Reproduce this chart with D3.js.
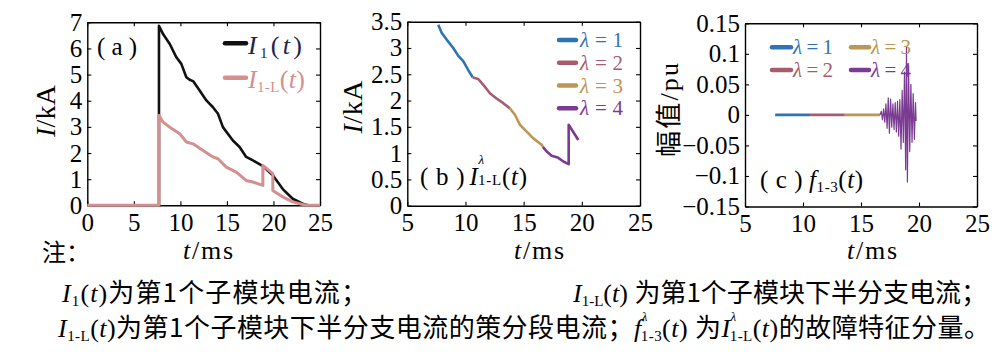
<!DOCTYPE html>
<html><head><meta charset="utf-8">
<script src="https://cdn.jsdelivr.net/npm/d3@7"></script>
<style>body{margin:0;background:#fff}svg{display:block}</style>
</head><body>
<svg id="chart" width="1008" height="355"></svg>
<script>
// ---------------- data ----------------
// panel (a)
const tA_I1  = [0, 7.7, 7.7, 8.14, 8.86, 9.57, 10.1, 10.64, 11.0, 11.36, 12.07, 12.79, 13.5, 14.04, 14.57, 15.64, 16.36, 17.07, 17.79, 18.86, 19.93, 21.0, 22.07, 23.14, 23.7, 25];
const vA_I1  = [0, 0, 6.87, 6.55, 6.17, 5.66, 5.41, 4.90, 4.80, 4.75, 4.39, 4.01, 3.75, 3.50, 2.99, 2.48, 2.23, 1.85, 1.72, 1.50, 1.15, 0.62, 0.25, 0.06, 0, 0];
const tA_I1L = [0, 7.7, 7.7, 8.14, 8.86, 9.93, 10.64, 11.36, 12.43, 13.5, 14.04, 14.93, 16.0, 17.07, 17.79, 18.86, 18.86, 19.93, 19.93, 21.0, 22.07, 23.14, 23.7, 25];
const vA_I1L = [0, 0, 3.44, 3.18, 2.99, 2.74, 2.42, 2.35, 2.10, 1.85, 1.78, 1.46, 1.27, 0.95, 0.89, 0.76, 1.53, 1.21, 0.57, 0.32, 0.13, 0.03, 0, 0];
// panel (b) segments
const tB1 = [7.66, 7.95, 8.38, 8.95, 9.38, 9.81, 10.24, 10.62];
const vB1 = [3.44, 3.29, 3.16, 3.00, 2.85, 2.75, 2.58, 2.44];
const tB2 = [10.62, 11.1, 11.53, 12.1, 12.67, 13.25, 13.82];
const vB2 = [2.44, 2.41, 2.30, 2.14, 2.04, 1.95, 1.85];
const tB3 = [13.82, 14.25, 14.68, 15.26, 15.83, 16.55, 16.65];
const vB3 = [1.85, 1.73, 1.54, 1.41, 1.28, 1.16, 1.12];
const tB4 = [16.65, 16.98, 17.41, 17.98, 18.41, 18.87, 18.87, 19.7];
const vB4 = [1.12, 1.03, 0.95, 0.91, 0.84, 0.79, 1.54, 1.25];
// panel (c) segments
const tC1 = [7.6, 10.6];   const vC1 = [0, 0];
const tC2 = [10.6, 13.6];  const vC2 = [0, 0];
const tC3 = [13.6, 16.65]; const vC3 = [0, 0];
const tC4 = [16.65,16.75,16.85,16.95,17.05,17.15,17.25,17.35,17.45,17.55,17.65,17.75,17.85,17.95,18.05,18.15,18.25,18.35,18.45,18.55,18.65,18.75,18.85,18.92,19.00,19.10,19.20,19.30,19.40,19.50,19.60,19.70,19.75];
const vC4 = [0,0.006,-0.008,0.010,-0.012,0.018,-0.022,0.028,-0.030,0.026,-0.020,0.018,-0.024,0.020,-0.028,0.022,-0.035,0.025,-0.056,0.040,-0.045,0.070,-0.090,0.112,-0.110,0.080,-0.060,0.050,-0.045,0.035,-0.040,0.020,-0.010];
// ticks
const xTicksA = [0, 5, 10, 15, 20, 25];
const yTicksA = [0, 1, 2, 3, 4, 5, 6, 7];
const xTicksBC = [5, 10, 15, 20, 25];
const yTicksB = [0, 0.5, 1, 1.5, 2, 2.5, 3, 3.5];
const yTicksC = [-0.15, -0.1, -0.05, 0, 0.05, 0.1, 0.15];
const yLabelsC = ["\u22120.15", "\u22120.1", "\u22120.05", "0", "0.05", "0.1", "0.15"];
const lambdaNames = ["\u03bb=1", "\u03bb=2", "\u03bb=3", "\u03bb=4"];
const lambdaColors = ["#2e74b5", "#a65b6e", "#be9552", "#7b3b93"];

// ---------------- drawing ----------------
const SERIF = "Liberation Serif";
const CJK = "Noto Sans CJK SC";
const svg = d3.select("#chart");

function panel(o) {
  const xs = d3.scaleLinear().domain(o.xd).range([o.x0, o.x1]);
  const ys = d3.scaleLinear().domain(o.yd).range([o.y1, o.y0]);
  const g = svg.append("g");
  const style = a => {
    a.attr("font-family", null).attr("font-size", null);
    a.selectAll("path.domain").attr("stroke", "#000").attr("stroke-width", 1.4);
    a.selectAll(".tick line").attr("stroke", "#000").attr("stroke-width", 1.1);
    a.selectAll("text").style("font-family", SERIF).style("font-size", "25px").attr("fill", "#000");
  };
  g.append("g").attr("transform", `translate(0,${o.y1})`)
    .call(d3.axisBottom(xs).tickValues(o.xt).tickFormat(d3.format("d")).tickSizeInner(-4).tickSizeOuter(0).tickPadding(8)).call(style);
  g.append("g").attr("transform", `translate(0,${o.y0})`)
    .call(d3.axisTop(xs).tickValues(o.xt).tickFormat("").tickSizeInner(-4).tickSizeOuter(0)).call(style);
  g.append("g").attr("transform", `translate(${o.x0},0)`)
    .call(d3.axisLeft(ys).tickValues(o.yt).tickFormat(o.yf).tickSizeInner(-4).tickSizeOuter(0).tickPadding(5)).call(style);
  g.append("g").attr("transform", `translate(${o.x1},0)`)
    .call(d3.axisRight(ys).tickValues(o.yt).tickFormat("").tickSizeInner(-4).tickSizeOuter(0)).call(style);
  return {g, xs, ys};
}

function drawLine(p, ts, vs, color, w) {
  const pts = ts.map((t, i) => [t, vs[i]]);
  p.g.append("path").datum(pts)
    .attr("d", d3.line().x(d => p.xs(d[0])).y(d => p.ys(d[1])))
    .attr("fill", "none").attr("stroke", color).attr("stroke-width", w)
    .attr("stroke-linejoin", "round").attr("stroke-linecap", "butt");
}

function rich(x, y, parts, opt) {
  const t = svg.append("text").attr("x", x).attr("y", y)
    .style("font-family", SERIF).attr("font-size", opt.size).attr("fill", opt.fill || "#000");
  if (opt.anchor) t.attr("text-anchor", opt.anchor);
  let off = 0;
  parts.forEach(p => {
    const s = t.append("tspan").text(p.t);
    const o = p.off || 0;
    if (o !== off) s.attr("dy", o - off);
    off = o;
    if (p.it) s.attr("font-style", "italic");
    if (p.sz) s.attr("font-size", p.sz);
    if (p.cjk) s.style("font-family", CJK);
    if (p.dx) s.attr("dx", p.dx);
  });
  if (opt.len) t.attr("textLength", opt.len).attr("lengthAdjust", opt.adj || "spacing");
  if (opt.rot) t.attr("transform", `rotate(-90,${x},${y})`);
  return t;
}

function legendEntry(x1, x2, y, color, tx, ty, label, len) {
  svg.append("line").attr("x1", x1).attr("x2", x2).attr("y1", y).attr("y2", y)
    .attr("stroke", color).attr("stroke-width", 4.5).attr("stroke-linecap", "round");
  rich(tx, ty, [{t: label[0], it: true}, {t: label.slice(1)}], {size: 21, fill: color, len: len});
}

// ---- panel (a)
const pa = panel({x0: 87.3, x1: 320, y0: 22.3, y1: 205.3, xd: [0, 25], yd: [0, 7],
  xt: xTicksA, yt: yTicksA, yf: d3.format("d")});
drawLine(pa, tA_I1, vA_I1, "#111", 2.6);
drawLine(pa, tA_I1L, vA_I1L, "#d4908f", 3);
svg.append("line").attr("x1", 225).attr("x2", 246).attr("y1", 43.3).attr("y2", 43.3)
  .attr("stroke", "#111").attr("stroke-width", 4.5).attr("stroke-linecap", "round");
svg.append("line").attr("x1", 225).attr("x2", 246).attr("y1", 77.7).attr("y2", 77.7)
  .attr("stroke", "#d4908f").attr("stroke-width", 4.5).attr("stroke-linecap", "round");
rich(248, 54, [{t: "I", it: true}, {t: "1", sz: 15, off: 4}, {t: "(", off: 0}, {t: "t", it: true}, {t: ")"}],
  {size: 26, fill: "#1f2350", len: 54});
rich(248, 88, [{t: "I", it: true}, {t: "1-L", sz: 15, off: 4}, {t: "(", off: 0}, {t: "t", it: true}, {t: ")"}],
  {size: 26, fill: "#d4908f", len: 57});
rich(97, 55, [{t: "( a )"}], {size: 25, len: 40});
rich(55, 111, [{t: "I", it: true}, {t: "/kA"}], {size: 28, anchor: "middle", rot: true, len: 52});
rich(208, 259, [{t: "t", it: true}, {t: "/ms"}], {size: 26, anchor: "middle", len: 50});

// ---- panel (b)
const pb = panel({x0: 407.3, x1: 640, y0: 21.7, y1: 205.7, xd: [5, 25], yd: [0, 3.5],
  xt: xTicksBC, yt: yTicksB, yf: d => String(d)});
[[tB1, vB1], [tB2, vB2], [tB3, vB3], [tB4, vB4]].forEach((s, i) => drawLine(pb, s[0], s[1], lambdaColors[i], 2.6));
const legBY = [40, 62.7, 85.5, 108.3];
lambdaNames.forEach((n, i) => legendEntry(559, 576, legBY[i], lambdaColors[i], 580, legBY[i] + 7, n, 43));
rich(420, 185, [{t: "( b )"}, {t: "I", it: true, dx: 4}, {t: "\u03bb", it: true, sz: 13, off: -21},
  {t: "1-L", sz: 15, off: 0, dx: -7}, {t: "(", off: 0}, {t: "t", it: true}, {t: ")"}], {size: 25, len: 107});
rich(362, 107, [{t: "I", it: true}, {t: "/kA"}], {size: 28, anchor: "middle", rot: true, len: 53});
rich(539, 259, [{t: "t", it: true}, {t: "/ms"}], {size: 26, anchor: "middle", len: 50});

// ---- panel (c)
const pc = panel({x0: 745, x1: 977, y0: 23.3, y1: 206.5, xd: [5, 25], yd: [-0.15, 0.15],
  xt: xTicksBC, yt: yTicksC, yf: (d, i) => yLabelsC[i]});
drawLine(pc, tC1, vC1, lambdaColors[0], 2.6);
drawLine(pc, tC2, vC2, lambdaColors[1], 2.6);
drawLine(pc, tC3, vC3, lambdaColors[2], 2.6);
drawLine(pc, tC4, vC4, lambdaColors[3], 1.2);
legendEntry(772, 791, 47.3, lambdaColors[0], 793, 54, lambdaNames[0], 40);
legendEntry(772, 791, 70, lambdaColors[1], 793, 77, lambdaNames[1], 40);
legendEntry(851, 869, 47.3, lambdaColors[2], 871, 54, lambdaNames[2], 40);
legendEntry(851, 869, 70, lambdaColors[3], 871, 77, lambdaNames[3], 40);
rich(760, 188, [{t: "( c )"}, {t: "f", it: true, dx: 6}, {t: "1-3", sz: 15, off: 4}, {t: "(", off: 0}, {t: "t", it: true}, {t: ")"}],
  {size: 25, len: 103});
rich(678, 110, [{t: "\u5e45\u503c", cjk: true}, {t: "/pu"}], {size: 26, anchor: "middle", rot: true, len: 94});
rich(872, 259, [{t: "t", it: true}, {t: "/ms"}], {size: 26, anchor: "middle", len: 50});

// ---- notes
rich(42, 261, [{t: "\u6ce8\uff1a", cjk: true}], {size: 24});
rich(62, 302, [{t: "I", it: true}, {t: "1", sz: 15, off: 4}, {t: "(", off: 0}, {t: "t", it: true}, {t: ")"},
  {t: "为第1个子模块电流；", cjk: true}], {size: 26, len: 305});
rich(573, 302, [{t: "I", it: true}, {t: "1-L", sz: 15, off: 4}, {t: "(", off: 0}, {t: "t", it: true}, {t: ") "},
  {t: "为第1个子模块下半分支电流；", cjk: true}], {size: 26, len: 414});
rich(58, 337, [{t: "I", it: true}, {t: "1-L", sz: 15, off: 4}, {t: "(", off: 0}, {t: "t", it: true}, {t: ")"},
  {t: "为第1个子模块下半分支电流的策分段电流；", cjk: true},
  {t: "f", it: true}, {t: "\u03bb", it: true, sz: 13, off: -16}, {t: "1-3", sz: 15, off: 4, dx: -7},
  {t: "(", off: 0}, {t: "t", it: true}, {t: ") "},
  {t: "为", cjk: true},
  {t: "I", it: true}, {t: "\u03bb", it: true, sz: 13, off: -16}, {t: "1-L", sz: 15, off: 4, dx: -7},
  {t: "(", off: 0}, {t: "t", it: true}, {t: ")"},
  {t: "的故障特征分量。", cjk: true}], {size: 26, len: 932});
</script>
</body></html>
